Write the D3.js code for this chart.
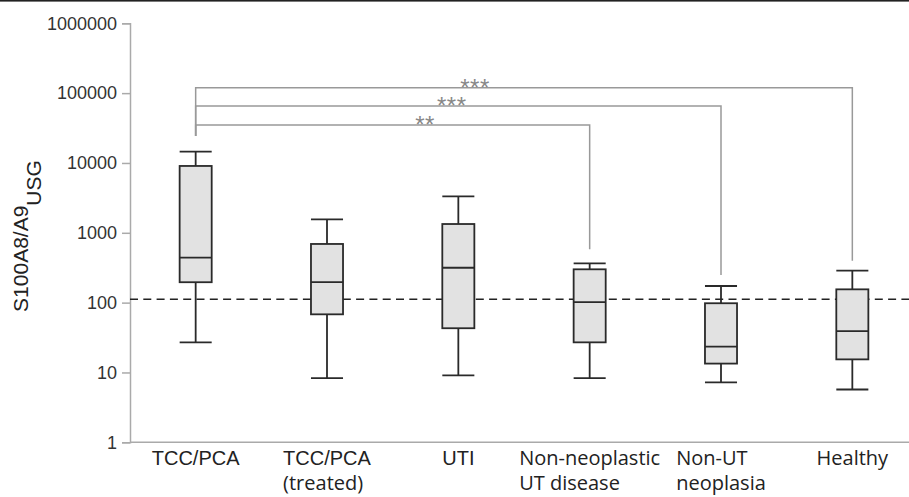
<!DOCTYPE html>
<html>
<head>
<meta charset="utf-8">
<script src="https://cdn.jsdelivr.net/npm/d3@7"></script>
<style>
  body { margin: 0; background: #fff; }
  svg { display: block; }
</style>
</head>
<body>
<script>
// groups and their box stats (log scale)
const groups = ["TCC/PCA", "TCC/PCA\n(treated)", "UTI", "Non-neoplastic\nUT disease", "Non-UT\nneoplasia", "Healthy"];
const whiskerLow = [27, 8.3, 9.1, 8.3, 7.2, 5.7];
const q1 = [196, 68, 43, 27, 13.4, 15.4];
const medians = [440, 196, 316, 102, 23.4, 39];
const q3 = [9060, 692, 1336, 300, 98, 155];
const whiskerHigh = [14500, 1560, 3330, 366, 173, 287];

const cutoff = 112;
const yTicks = [1, 10, 100, 1000, 10000, 100000, 1000000];

// significance brackets: level of the bar, where each leg stops, star position (category index)
const brackets = [
  { from: 0, to: 5, level: 119700, startEnd: 24300, stopEnd: 398, stars: "***", at: 2.127 },
  { from: 0, to: 4, level: 65400, startEnd: 24300, stopEnd: 249, stars: "***", at: 1.95 },
  { from: 0, to: 3, level: 35000, startEnd: 24300, stopEnd: 580, stars: "**", at: 1.746 }
];

const width = 909, height = 497;
const mLeft = 130, mRight = 918, mTop = 23.3, mBottom = 442.3;

const svg = d3.select("body").append("svg")
  .attr("width", width).attr("height", height);

// thin dark rule along the top edge
svg.append("rect").attr("x", 0).attr("y", 0).attr("width", width).attr("height", 1.6).attr("fill", "#222");

const x = d3.scaleBand().domain(d3.range(groups.length)).range([mLeft, mRight])
  .paddingInner(0.756).paddingOuter(0.378);
const xc = i => x(i) + x.bandwidth() / 2;
const xIdx = d3.scaleLinear().domain([0, 1]).range([xc(0), xc(1)]);

const y = d3.scaleLog().domain([1, 1000000]).range([mBottom, mTop]);

// y axis
const yAxis = svg.append("g").attr("transform", `translate(${mLeft},0)`)
  .call(d3.axisLeft(y).tickValues(yTicks).tickFormat(d3.format("d")).tickSize(8).tickPadding(5));
yAxis.select(".domain").attr("stroke", "#aaa").attr("stroke-width", 1.5);
yAxis.selectAll(".tick line").attr("stroke", "#aaa").attr("stroke-width", 1.5);
yAxis.selectAll(".tick text").attr("fill", "#333")
  .style("font-family", "Liberation Sans, Arial, sans-serif").style("font-size", "18px");

// x axis line
svg.append("line").attr("x1", mLeft).attr("x2", width).attr("y1", mBottom).attr("y2", mBottom)
  .attr("stroke", "#aaa").attr("stroke-width", 1.5);

// y title with subscript
const title = svg.append("text")
  .attr("transform", `translate(28,236) rotate(-90)`)
  .attr("text-anchor", "middle")
  .attr("fill", "#222")
  .style("font-family", "Liberation Sans, Arial, sans-serif").style("font-size", "21px");
title.append("tspan").text("S100A8/A9");
title.append("tspan").attr("dy", "0.62em").text("USG");

// cutoff line
svg.append("line").attr("x1", mLeft).attr("x2", width).attr("y1", y(cutoff)).attr("y2", y(cutoff))
  .attr("stroke", "#222").attr("stroke-width", 1.6).attr("stroke-dasharray", "8,5.3");

// boxes
const box = svg.append("g").selectAll("g").data(groups).join("g");
const bw = x.bandwidth();
box.append("line")
  .attr("x1", (d, i) => xc(i)).attr("x2", (d, i) => xc(i))
  .attr("y1", (d, i) => y(whiskerLow[i])).attr("y2", (d, i) => y(whiskerHigh[i]))
  .attr("stroke", "#2a2a2a").attr("stroke-width", 1.8);
box.append("rect")
  .attr("x", (d, i) => x(i)).attr("width", bw)
  .attr("y", (d, i) => y(q3[i])).attr("height", (d, i) => y(q1[i]) - y(q3[i]))
  .attr("fill", "#e2e2e2").attr("stroke", "#2a2a2a").attr("stroke-width", 1.8);
box.append("line")
  .attr("x1", (d, i) => x(i)).attr("x2", (d, i) => x(i) + bw)
  .attr("y1", (d, i) => y(medians[i])).attr("y2", (d, i) => y(medians[i]))
  .attr("stroke", "#2a2a2a").attr("stroke-width", 1.8);
[whiskerLow, whiskerHigh].forEach(arr => {
  box.append("line")
    .attr("x1", (d, i) => x(i)).attr("x2", (d, i) => x(i) + bw)
    .attr("y1", (d, i) => y(arr[i])).attr("y2", (d, i) => y(arr[i]))
    .attr("stroke", "#2a2a2a").attr("stroke-width", 1.8);
});

// brackets
const br = svg.append("g").selectAll("g").data(brackets).join("g");
br.append("path")
  .attr("d", d => `M${xc(d.from)},${y(d.startEnd)}V${y(d.level)}H${xc(d.to)}V${y(d.stopEnd)}`)
  .attr("fill", "none").attr("stroke", "#999").attr("stroke-width", 1.5);
br.append("text")
  .attr("x", d => xIdx(d.at)).attr("y", d => y(d.level) + 8)
  .attr("text-anchor", "middle").attr("fill", "#888")
  .style("font-family", "Liberation Sans, Arial, sans-serif").style("font-size", "24px")
  .style("letter-spacing", "0.5px")
  .text(d => d.stars);

// category labels: lines left aligned as a block, block centred under the box
const lab = svg.append("g").selectAll("text").data(groups).join("text")
  .attr("fill", "#222");
lab.each(function (d, i) {
  const t = d3.select(this);
  const lines = d.split("\n");
  lines.forEach((s, k) => {
    const arialLike = /^[A-Z\/]+$/.test(s);
    t.append("tspan").attr("y", 465 + k * 25).text(s)
      .style("font-family", arialLike ? "Liberation Sans, Arial, sans-serif" : "Open Sans, Noto Sans, sans-serif")
      .style("font-size", "20px");
  });
  const w = d3.max(t.selectAll("tspan").nodes(), n => n.getComputedTextLength());
  t.selectAll("tspan").attr("x", xc(i) - w / 2);
});
</script>
</body>
</html>
